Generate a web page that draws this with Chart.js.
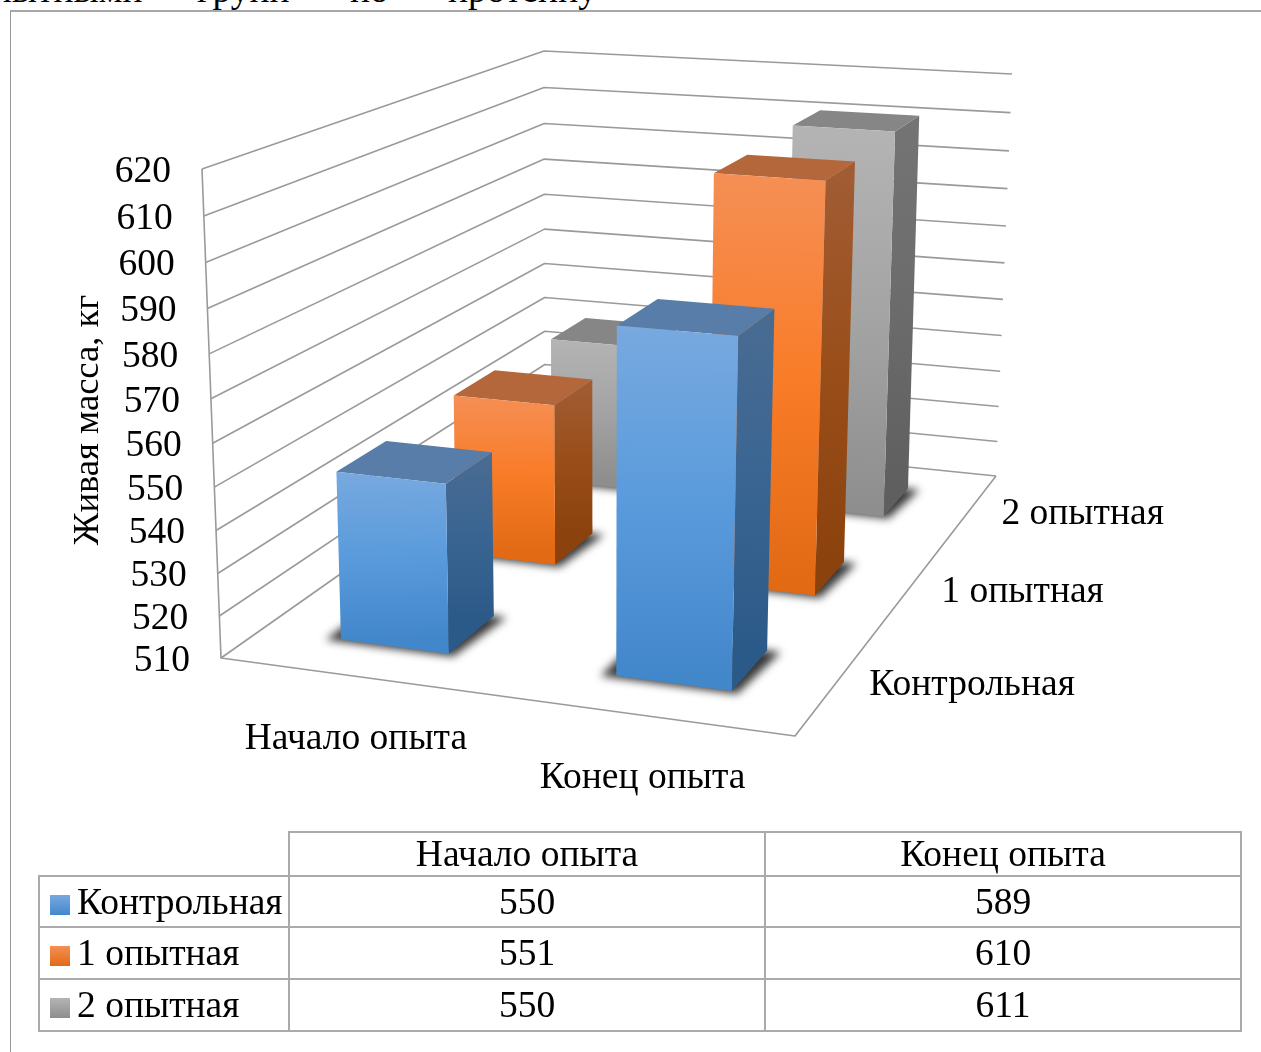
<!DOCTYPE html>
<html lang="ru">
<head>
<meta charset="utf-8">
<script src="https://cdn.jsdelivr.net/npm/chart.js@4"></script>
<style>
html,body{margin:0;padding:0;background:#fff;overflow:hidden}
body{width:1261px;height:1052px;position:relative;font-family:"Liberation Serif",serif;color:#000}
#frame{position:absolute;left:10px;top:10px;width:1300px;height:1100px;box-sizing:border-box;border-left:1px solid #999;border-top:2px solid #a8a8a8}
canvas{position:absolute;left:0;top:0}
.w{position:absolute;font-size:37.5px;line-height:36px;top:-28px;white-space:nowrap}
#clip{position:absolute;left:0;top:0;width:1261px;height:11px;overflow:hidden}
table{position:absolute;left:38px;top:831px;width:1202px;height:199px;border-collapse:collapse;table-layout:fixed;font-size:37.5px;background:transparent}
td{border:2px solid #aaaaaa;text-align:center;padding:0;line-height:1;white-space:nowrap;overflow:hidden;box-sizing:border-box}
td.n{text-align:left;padding-left:10px}
td.e{border-top:none;border-left:none}
i{display:inline-block;width:20px;height:20px;margin-right:7px;vertical-align:-1px}
</style>
</head>
<body>
<div id="clip"><span class="w" style="left:-27px">опытными</span><span class="w" style="left:197px">групп</span><span class="w" style="left:350px">по</span><span class="w" style="left:448px">протеину</span></div>
<div id="frame"></div>
<canvas id="c" width="1261" height="1052"></canvas>
<table id="t"><colgroup><col style="width:250px"><col style="width:476px"><col style="width:476px"></colgroup></table>
<script>
const categories = ["Начало опыта", "Конец опыта"];
const seriesNames = ["Контрольная", "1 опытная", "2 опытная"];
const control = [550, 589];
const exp1 = [551, 610];
const exp2 = [550, 611];
const yMin = 510, yMax = 620, yStep = 10;
const yTitle = "Живая масса, кг";

const palette = [
 {base:"#5b9bd5", f:["#78a9df","#5a9bdc","#4387cb"], s:["#4a6c92","#3a6592","#2c5a88"], t:"#587da8"},
 {base:"#ed7d31", f:["#f58f55","#f97c28","#e26a14"], s:["#a25d35","#9a4f1b","#8c420c"], t:"#b5673c"},
 {base:"#a5a5a5", f:["#b4b4b4","#a4a4a4","#8e8e8e"], s:["#747474","#6c6c6c","#5f5f5f"], t:"#868686"}
];

// projective frame of the 3D box: floor and ceiling quads (front-left, front-right, back-right, back-left)
const floorQ = [[221,658],[795,736],[996,476],[545,430]];
const ceilQ  = [[202,169],[810,213],[1012,74],[544,51]];
const wTop = 0.94;
const rowFill = 0.4;
const seriesLabelShift = [135,113,113];

function homography(q){
  const [p0,p1,p2,p3]=q;
  const dx1=p1[0]-p2[0],dx2=p3[0]-p2[0],sx=p0[0]-p1[0]+p2[0]-p3[0];
  const dy1=p1[1]-p2[1],dy2=p3[1]-p2[1],sy=p0[1]-p1[1]+p2[1]-p3[1];
  const det=dx1*dy2-dx2*dy1;
  const g=(sx*dy2-dx2*sy)/det,h=(dx1*sy-sx*dy1)/det;
  const a=p1[0]-p0[0]+g*p1[0],b=p3[0]-p0[0]+h*p3[0],c=p0[0];
  const d=p1[1]-p0[1]+g*p1[1],e=p3[1]-p0[1]+h*p3[1],f=p0[1];
  return (u,v)=>{const w=g*u+h*v+1;return [(a*u+b*v+c)/w,(d*u+e*v+f)/w];};
}
const hFloor=homography(floorQ),hCeil=homography(ceilQ);
function project(u,v,t){
  const A=hFloor(u,v),B=hCeil(u,v);
  const w0=1-t,w1=wTop*t,s=w0+w1;
  return [(A[0]*w0+B[0]*w1)/s,(A[1]*w0+B[1]*w1)/s];
}
function poly(ctx,pts){ctx.beginPath();pts.forEach((p,i)=>i?ctx.lineTo(p[0],p[1]):ctx.moveTo(p[0],p[1]));ctx.closePath();}
function grad(ctx,a,b,cols){const g=ctx.createLinearGradient(a[0],a[1],b[0],b[1]);g.addColorStop(0,cols[0]);g.addColorStop(.5,cols[1]);g.addColorStop(1,cols[2]);return g;}

const box3d={
  id:"box3d",
  beforeDatasetsDraw(chart){
    const ctx=chart.ctx,xs=chart.scales.x,ys=chart.scales.y;
    const uOf=px=>(px-xs.left)/(xs.right-xs.left);
    const tOf=px=>(ys.bottom-px)/(ys.bottom-ys.top);
    const nRows=chart.data.datasets.length;
    ctx.save();
    // walls
    ctx.strokeStyle="#9a9a9a";ctx.lineWidth=1.6;ctx.lineJoin="round";
    ys.ticks.forEach(tk=>{
      const t=tOf(ys.getPixelForValue(tk.value));
      ctx.beginPath();
      let p=project(0,0,t);ctx.moveTo(p[0],p[1]);
      p=project(0,1,t);ctx.lineTo(p[0],p[1]);
      p=project(1,1,t);ctx.lineTo(p[0],p[1]);
      ctx.stroke();
    });
    ctx.beginPath();
    [project(0,0,1),project(0,0,0),project(1,0,0),project(1,1,0)].forEach((p,i)=>i?ctx.lineTo(p[0],p[1]):ctx.moveTo(p[0],p[1]));
    ctx.stroke();
    // boxes
    const boxes=[];
    chart.data.datasets.forEach((ds,di)=>{
      chart.getDatasetMeta(di).data.forEach((el,ci)=>{
        const p=el.getProps(["x","y","width"],true);
        boxes.push({di,ci,u0:uOf(p.x-p.width/2),u1:uOf(p.x+p.width/2),
          v0:(di+.5-rowFill/2)/nRows,v1:(di+.5+rowFill/2)/nRows,t:tOf(p.y)});
      });
    });
    // floor shadows
    boxes.forEach(b=>{
      const du=(b.u1-b.u0)*.12,dv=(b.v1-b.v0)*.1;
      ctx.save();ctx.filter="blur(4.5px)";ctx.fillStyle="rgba(0,0,0,.78)";
      poly(ctx,[hFloor(b.u0-du,b.v0-dv*.5),hFloor(b.u1+du*.5,b.v0-dv*.5),hFloor(b.u1+du,b.v1),hFloor(b.u0-du,b.v1)]);
      ctx.fill();ctx.restore();
    });
    boxes.sort((a,b)=>b.di-a.di||a.ci-b.ci);
    boxes.forEach(b=>{
      const c=palette[b.di];
      const fbl=project(b.u0,b.v0,0),fbr=project(b.u1,b.v0,0),bbr=project(b.u1,b.v1,0);
      const ftl=project(b.u0,b.v0,b.t),ftr=project(b.u1,b.v0,b.t),btr=project(b.u1,b.v1,b.t),btl=project(b.u0,b.v1,b.t);
      ctx.fillStyle=grad(ctx,btr,bbr,c.s);poly(ctx,[ftr,btr,bbr,fbr]);ctx.fill();
      ctx.fillStyle=c.t;poly(ctx,[ftl,ftr,btr,btl]);ctx.fill();
      ctx.fillStyle=grad(ctx,ftl,fbl,c.f);poly(ctx,[ftl,ftr,fbr,fbl]);ctx.fill();
    });
    // labels
    ctx.fillStyle="#000";ctx.font='37.5px "Liberation Serif"';ctx.textBaseline="middle";
    ctx.textAlign="right";
    ys.ticks.forEach(tk=>{
      const p=project(0,0,tOf(ys.getPixelForValue(tk.value)));
      ctx.fillText(String(tk.value),p[0]-31,p[1]+3);
    });
    ctx.textAlign="center";
    chart.data.labels.forEach((lb,i)=>{
      const p=project(uOf(xs.getPixelForValue(i)),0,0);
      ctx.fillText(lb,p[0]-1,p[1]+63);
    });
    chart.data.datasets.forEach((ds,di)=>{
      const p=project(1,(di+.5)/nRows,0);
      ctx.fillText(ds.label,p[0]+seriesLabelShift[di],p[1]+4);
    });
    ctx.restore();
    return false;
  }
};

const sets=[control,exp1,exp2];
new Chart(document.getElementById("c"),{
  type:"bar",
  data:{labels:categories,datasets:seriesNames.map((n,i)=>({label:n,data:sets[i],backgroundColor:palette[i].base,grouped:false,categoryPercentage:rowFill,barPercentage:1}))},
  options:{
    responsive:false,animation:false,
    font:{family:"Liberation Serif"},
    layout:{padding:{left:66,top:175,bottom:387,right:0}},
    plugins:{legend:{display:false},tooltip:{enabled:false}},
    scales:{
      x:{display:false,offset:true,grid:{display:false}},
      y:{min:yMin,max:yMax,display:true,grid:{display:false},border:{display:false},
        ticks:{display:false,stepSize:yStep},
        title:{display:true,text:yTitle,color:"#000",font:{family:"Liberation Serif",size:36.6},padding:0}}
    }
  },
  plugins:[box3d]
});

// data table
const tb=document.getElementById("t");
const head=tb.insertRow();head.style.height="44px";
const e=head.insertCell();e.className="e";
categories.forEach(cn=>{head.insertCell().textContent=cn;});
seriesNames.forEach((n,i)=>{
  const r=tb.insertRow();r.style.height=(i?52:51)+"px";
  const c0=r.insertCell();c0.className="n";
  const sw=document.createElement("i");
  sw.style.background=`linear-gradient(${palette[i].f[0]},${palette[i].f[2]})`;
  c0.appendChild(sw);c0.appendChild(document.createTextNode(n));
  sets[i].forEach(v=>{r.insertCell().textContent=v;});
});
</script>
</body>
</html>
